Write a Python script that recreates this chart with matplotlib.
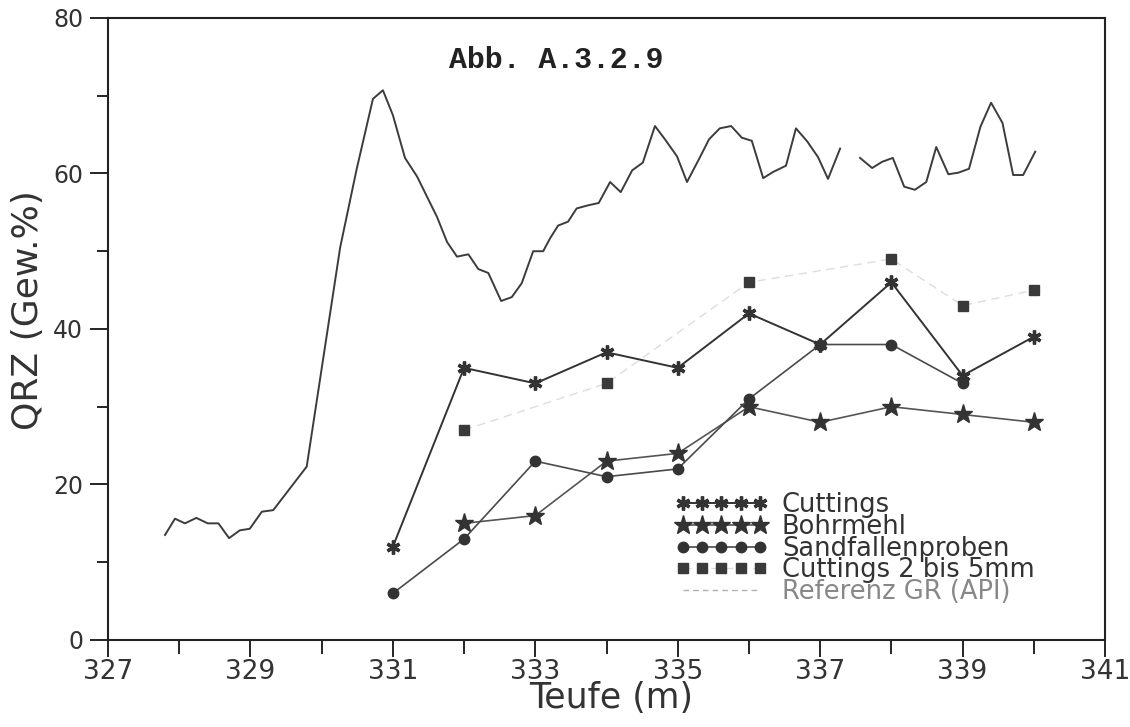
import numpy as np
import matplotlib
matplotlib.use("Agg")
import matplotlib.pyplot as plt
from matplotlib.lines import Line2D
from matplotlib.ticker import MultipleLocator

# data

# Referenz GR (API) curve (nan = gap in the trace)
gr_depth = [327.80, 327.94, 328.08, 328.24, 328.40, 328.55, 328.70, 328.85, 328.99,
            329.16, 329.32, 329.79, 330.26, 330.49, 330.72, 330.86, 331.00, 331.17,
            331.34, 331.48, 331.62, 331.76, 331.90, 332.06, 332.20, 332.34, 332.52,
            332.67, 332.81, 332.97, 333.11, 333.21, 333.32, 333.46, 333.58, 333.74,
            333.89, 334.05, 334.20, 334.36, 334.51, 334.68, 334.82, 334.99, 335.13,
            335.29, 335.44, 335.59, 335.75, 335.90, 336.04, 336.20, 336.34, 336.52,
            336.66, 336.82, 336.97, 337.11, 337.28, 337.42, 337.56, 337.73, 337.87,
            338.02, 338.18, 338.33, 338.49, 338.63, 338.80, 338.94, 339.09, 339.25,
            339.40, 339.56, 339.71, 339.85, 340.02]
gr_value = [13.5, 15.6, 15.0, 15.7, 15.0, 15.0, 13.1, 14.1, 14.3,
            16.5, 16.7, 22.3, 50.5, 60.5, 69.6, 70.7, 67.5, 62.0,
            59.6, 57.0, 54.4, 51.2, 49.3, 49.6, 47.7, 47.2, 43.6,
            44.1, 45.9, 50.0, 50.0, 51.7, 53.3, 53.8, 55.5, 55.9,
            56.2, 58.9, 57.6, 60.4, 61.4, 66.1, 64.4, 62.2, 58.9,
            61.7, 64.4, 65.8, 66.1, 64.6, 64.2, 59.4, 60.2, 61.0,
            65.8, 64.1, 62.1, 59.3, 63.2, np.nan, 62.0, 60.7, 61.5,
            62.0, 58.3, 57.9, 58.9, 63.4, 59.9, 60.1, 60.6, 66.0,
            69.1, 66.5, 59.8, 59.8, 62.8]

cut_depth = [331, 332, 333, 334, 335, 336, 337, 338, 339, 340]
cut_qrz = [12, 35, 33, 37, 35, 42, 38, 46, 34, 39]

bohr_depth = [332, 333, 334, 335, 336, 337, 338, 339, 340]
bohr_qrz = [15, 16, 23, 24, 30, 28, 30, 29, 28]

sand_depth = [331, 332, 333, 334, 335, 336, 337, 338, 339]
sand_qrz = [6, 13, 23, 21, 22, 31, 38, 38, 33]

c25_depth = [332, 334, 336, 338, 339, 340]
c25_qrz = [27, 33, 46, 49, 43, 45]

x_ticks = [327, 329, 331, 333, 335, 337, 339, 341]

INK = "#333333"

fig = plt.figure(figsize=(11.3, 7.27), dpi=100)
ax = fig.add_axes([0.0956, 0.1197, 0.8823, 0.8556])

ax.plot(gr_depth, gr_value, color="#3c3c3c", lw=1.4)

l_cut, = ax.plot(cut_depth, cut_qrz, color=INK, lw=1.4,
                 marker=(6, 2, 0), ms=10, mew=2.4, mec=INK, label="Cuttings")
l_bohr, = ax.plot(bohr_depth, bohr_qrz, color="#555555", lw=1.2,
                  marker="*", ms=14, mfc=INK, mec=INK, label="Bohrmehl")
l_sand, = ax.plot(sand_depth, sand_qrz, color="#4a4a4a", lw=1.2,
                  marker="o", ms=7.5, mfc=INK, mec=INK, label="Sandfallenproben")
l_c25, = ax.plot(c25_depth, c25_qrz, color="#dddddd", lw=1.0, ls=(0, (6, 4)),
                 marker="s", ms=7.5, mfc="#3a3a3a", mec="#3a3a3a",
                 label="Cuttings 2 bis 5mm")

gr_proxy = Line2D([], [], color="#b0b0b0", lw=1.0, ls=(0, (4, 3)),
                  label="Referenz GR (API)")

ax.set_xlim(327, 341)
ax.set_ylim(0, 80)
ax.set_xticks(x_ticks)
ax.xaxis.set_minor_locator(MultipleLocator(1))
ax.yaxis.set_major_locator(MultipleLocator(20))
ax.yaxis.set_minor_locator(MultipleLocator(10))

for sp in ax.spines.values():
    sp.set_linewidth(1.5)
    sp.set_color("#222222")

ax.tick_params(axis="y", which="major", direction="out", length=13, width=1.2,
               pad=5, labelsize=17, labelcolor=INK)
ax.tick_params(axis="y", which="minor", direction="out", length=8, width=1.2)
ax.tick_params(axis="x", which="major", direction="out", length=12, width=1.2,
               pad=2, labelsize=19, labelcolor=INK)
ax.tick_params(axis="x", which="minor", direction="out", length=10, width=1.2)

ax.set_xlabel("Teufe (m)", fontsize=25, color=INK)
ax.xaxis.set_label_coords(0.505, -0.066)
ax.set_ylabel("QRZ (Gew.%)", fontsize=26, color=INK)
ax.yaxis.set_label_coords(-0.063, 0.53)

ax.text(0.45, 0.932, "Abb. A.3.2.9", transform=ax.transAxes, ha="center",
        va="center", fontsize=21.5, family="Liberation Mono", weight="bold",
        color="#222222")

leg = ax.legend(handles=[l_cut, l_bohr, l_sand, l_c25, gr_proxy],
                loc="upper left", bbox_to_anchor=(0.556, 0.258),
                frameon=False, numpoints=5, handlelength=3.6,
                handletextpad=0.55, labelspacing=-0.17, borderpad=0,
                fontsize=18.5)
for txt in leg.get_texts():
    txt.set_color(INK)
leg.get_texts()[-1].set_color("#888888")

fig.savefig("out.png", dpi=100)
